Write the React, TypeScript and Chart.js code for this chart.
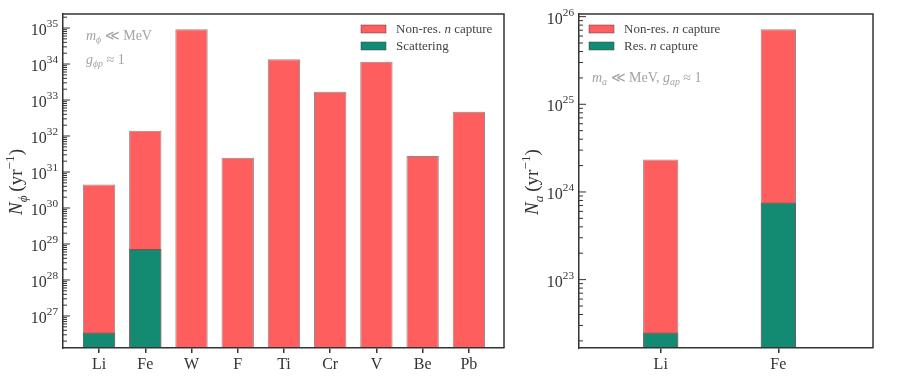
import React, { useEffect, useRef } from "react";
import { Chart, registerables } from "chart.js";

Chart.register(...registerables);

// ---------------- data ----------------
// Left panel: scalar (phi) production per element
const phiElements = ["Li", "Fe", "W", "F", "Ti", "Cr", "V", "Be", "Pb"];
const phiNonResCapture = [4.5e30, 1.4e32, 9.3e34, 2.5e31, 1.35e34, 1.7e33, 1.15e34, 2.8e31, 4.7e32];
const phiScattering = [3.5e26, 7.2e28, null, null, null, null, null, null, null];
const phiMajorExponents = [27, 28, 29, 30, 31, 32, 33, 34, 35];

// Right panel: axion (a) production per element
const axionElements = ["Li", "Fe"];
const axionNonResCapture = [2.35e24, 7.2e25];
const axionResCapture = [2.5e22, 7.6e23];
const axionMajorExponents = [23, 24, 25, 26];

const minorMantissas = [2, 3, 4, 5, 6, 7, 8, 9];

// ---------------- style ----------------
const FONT = '"Liberation Serif", "DejaVu Serif", serif';
const AXIS = "#333333";
const RED = "#ff5e5e";
const GREEN = "#138a72";
const EDGE = "rgba(60,60,60,0.6)";
const NOTE = "#a3a3a3";
const TEXT = "#333333";

type Run = { t: string; it?: boolean; sub?: boolean; sup?: boolean };

type Series = { label: Run[]; values: (number | null)[]; color: string; order: number };

type Spec = {
  categories: string[];
  series: Series[];
  majorExps: number[];
  yMin: number;
  yMax: number;
  xMin: number;
  xMax: number;
  barRatio: number;
  yAxisWidth: number;
  padRight: number;
  title: Run[];
  titleX: number;
  legendX: number;
  notes: { runs: Run[]; x: number; y: number }[];
};

const nonResLabel: Run[] = [{ t: "Non-res. " }, { t: "n", it: true }, { t: " capture" }];

const phiSpec: Spec = {
  categories: phiElements,
  series: [
    { label: nonResLabel, values: phiNonResCapture, color: RED, order: 2 },
    { label: [{ t: "Scattering" }], values: phiScattering, color: GREEN, order: 1 },
  ],
  majorExps: phiMajorExponents,
  yMin: Math.pow(10, 26.11),
  yMax: Math.pow(10, 35.39),
  xMin: -0.78,
  xMax: 8.76,
  barRatio: 0.7,
  yAxisWidth: 63,
  padRight: 16,
  title: [{ t: "N", it: true }, { t: "ϕ", it: true, sub: true }, { t: "\u2009(yr" }, { t: "−1", sup: true }, { t: ")" }],
  titleX: 16,
  legendX: 361,
  notes: [
    { runs: [{ t: "m", it: true }, { t: "ϕ", it: true, sub: true }, { t: " ≪ MeV" }], x: 86, y: 35 },
    { runs: [{ t: "g", it: true }, { t: "ϕp", it: true, sub: true }, { t: " ≈ 1" }], x: 86, y: 59 },
  ],
};

const axionSpec: Spec = {
  categories: axionElements,
  series: [
    { label: nonResLabel, values: axionNonResCapture, color: RED, order: 2 },
    { label: [{ t: "Res. " }, { t: "n", it: true }, { t: " capture" }], values: axionResCapture, color: GREEN, order: 1 },
  ],
  majorExps: axionMajorExponents,
  yMin: Math.pow(10, 22.22),
  yMax: Math.pow(10, 26.03),
  xMin: -0.695,
  xMax: 1.805,
  barRatio: 0.3,
  yAxisWidth: 59,
  padRight: 27,
  title: [{ t: "N", it: true }, { t: "a", it: true, sub: true }, { t: "\u2009(yr" }, { t: "−1", sup: true }, { t: ")" }],
  titleX: 12,
  legendX: 69,
  notes: [
    {
      runs: [
        { t: "m", it: true },
        { t: "a", it: true, sub: true },
        { t: " ≪ MeV, " },
        { t: "g", it: true },
        { t: "ap", it: true, sub: true },
        { t: " ≈ 1" },
      ],
      x: 72,
      y: 77,
    },
  ],
};

// ---------------- helpers ----------------
function runFont(r: Run, size: number) {
  const s = r.sub || r.sup ? size * 0.7 : size;
  return `${r.it ? "italic " : ""}${s}px ${FONT}`;
}

function drawRuns(
  ctx: CanvasRenderingContext2D,
  runs: Run[],
  x: number,
  cy: number,
  size: number,
  color: string,
  align: "left" | "center" | "right",
  supShift = 0.45
) {
  ctx.save();
  ctx.fillStyle = color;
  ctx.textBaseline = "alphabetic";
  ctx.textAlign = "left";
  const widths = runs.map((r) => {
    ctx.font = runFont(r, size);
    return ctx.measureText(r.t).width;
  });
  const total = widths.reduce((a, b) => a + b, 0);
  let cx = align === "left" ? x : align === "center" ? x - total / 2 : x - total;
  const base = cy + size * 0.34;
  runs.forEach((r, i) => {
    ctx.font = runFont(r, size);
    const dy = r.sub ? size * 0.22 : r.sup ? -size * supShift : 0;
    ctx.fillText(r.t, cx, base + dy);
    cx += widths[i];
  });
  ctx.restore();
}

function supDigits(n: number) {
  return String(n);
}

function buildLogTicks(exps: number[], min: number, max: number) {
  const ticks: { value: number; major: boolean }[] = [];
  const lo = exps[0] - 1;
  const hi = exps[exps.length - 1];
  for (let e = lo; e <= hi; e++) {
    const major = Math.pow(10, e);
    if (major >= min && major <= max) ticks.push({ value: major, major: true });
    for (const m of minorMantissas) {
      const v = m * Math.pow(10, e);
      if (v >= min && v <= max) ticks.push({ value: v, major: false });
    }
  }
  return ticks.sort((a, b) => a.value - b.value);
}

function decorPlugin(spec: Spec) {
  return {
    id: "decor",
    afterDatasetsDraw(chart: any) {
      const ctx: CanvasRenderingContext2D = chart.ctx;
      const a = chart.chartArea;
      const y = chart.scales.y;
      ctx.save();
      // top and right spines
      ctx.strokeStyle = AXIS;
      ctx.lineWidth = 1.5;
      ctx.beginPath();
      ctx.moveTo(a.left, a.top);
      ctx.lineTo(a.right, a.top);
      ctx.lineTo(a.right, a.bottom);
      ctx.stroke();
      // inward y ticks + labels
      ctx.lineWidth = 1;
      for (const t of y.ticks) {
        const py = y.getPixelForValue(t.value);
        if (py < a.top - 0.5 || py > a.bottom + 0.5) continue;
        ctx.beginPath();
        ctx.moveTo(a.left, py);
        ctx.lineTo(a.left + (t.major ? 7 : 4), py);
        ctx.stroke();
        if (t.major) {
          const exp = Math.round(Math.log10(t.value));
          drawRuns(ctx, [{ t: "10" }, { t: supDigits(exp), sup: true }], a.left - 5, py + 1.5, 16, TEXT, "right", 0.5);
        }
      }
      // legend
      spec.series.forEach((s, i) => {
        const ly = 25 + i * 17;
        ctx.fillStyle = s.color;
        ctx.fillRect(spec.legendX, ly, 25, 8);
        ctx.strokeStyle = EDGE;
        ctx.lineWidth = 0.8;
        ctx.strokeRect(spec.legendX, ly, 25, 8);
        drawRuns(ctx, s.label, spec.legendX + 35, ly + 4, 13, "#444444", "left");
      });
      // notes
      for (const n of spec.notes) drawRuns(ctx, n.runs, n.x, n.y, 14, NOTE, "left");
      // y title
      ctx.save();
      ctx.translate(spec.titleX, (a.top + a.bottom) / 2 + 1);
      ctx.rotate(-Math.PI / 2);
      drawRuns(ctx, spec.title, 0, 0, 19, TEXT, "center");
      ctx.restore();
      ctx.restore();
    },
  };
}

function buildConfig(spec: Spec): any {
  const datasets = spec.series.map((s) => ({
    label: s.label.map((r) => r.t).join(""),
    data: s.values
      .map((v, i) => (v == null ? null : { x: i, y: v }))
      .filter((p) => p !== null),
    backgroundColor: s.color,
    borderColor: EDGE,
    borderWidth: 1,
    grouped: false,
    barPercentage: spec.barRatio,
    categoryPercentage: 1,
    order: s.order,
  }));
  return {
    type: "bar",
    data: { datasets },
    options: {
      animation: false,
      responsive: false,
      events: [],
      layout: { padding: { top: 14, right: spec.padRight, left: 0, bottom: 0 } },
      plugins: { legend: { display: false }, tooltip: { enabled: false }, title: { display: false } },
      scales: {
        x: {
          type: "linear",
          min: spec.xMin,
          max: spec.xMax,
          offset: false,
          afterFit: (s: any) => {
            s.height = 33;
          },
          afterBuildTicks: (s: any) => {
            s.ticks = spec.categories.map((_, i) => ({ value: i }));
          },
          ticks: {
            autoSkip: false,
            maxRotation: 0,
            padding: 2,
            color: TEXT,
            font: { family: FONT, size: 16 },
            callback: (v: number) => spec.categories[Math.round(v)] ?? "",
          },
          grid: {
            display: true,
            drawOnChartArea: false,
            drawTicks: true,
            tickLength: 5,
            color: AXIS,
            lineWidth: 1.5,
            offset: false,
          },
          border: { display: true, color: AXIS, width: 1.5, z: 1 },
        },
        y: {
          type: "logarithmic",
          min: spec.yMin,
          max: spec.yMax,
          stacked: false,
          afterFit: (s: any) => {
            s.width = spec.yAxisWidth;
          },
          afterBuildTicks: (s: any) => {
            s.ticks = buildLogTicks(spec.majorExps, spec.yMin, spec.yMax);
          },
          ticks: { display: false, autoSkip: false },
          grid: { display: false, drawTicks: false },
          border: { display: true, color: AXIS, width: 1.5, z: 1 },
        },
      },
    },
    plugins: [decorPlugin(spec)],
  };
}

function Panel({ spec, left, width }: { spec: Spec; left: number; width: number }) {
  const ref = useRef<HTMLCanvasElement>(null);
  useEffect(() => {
    const chart = new Chart(ref.current as HTMLCanvasElement, buildConfig(spec));
    return () => chart.destroy();
  }, [spec]);
  return (
    <canvas
      ref={ref}
      width={width}
      height={381}
      style={{ position: "absolute", left, top: 0, width, height: 381 }}
    />
  );
}

export default function App() {
  return (
    <div
      style={{
        position: "absolute",
        left: 0,
        top: 0,
        width: 900,
        height: 381,
        background: "#ffffff",
        overflow: "hidden",
      }}
    >
      <Panel spec={phiSpec} left={0} width={520} />
      <Panel spec={axionSpec} left={520} width={380} />
    </div>
  );
}
